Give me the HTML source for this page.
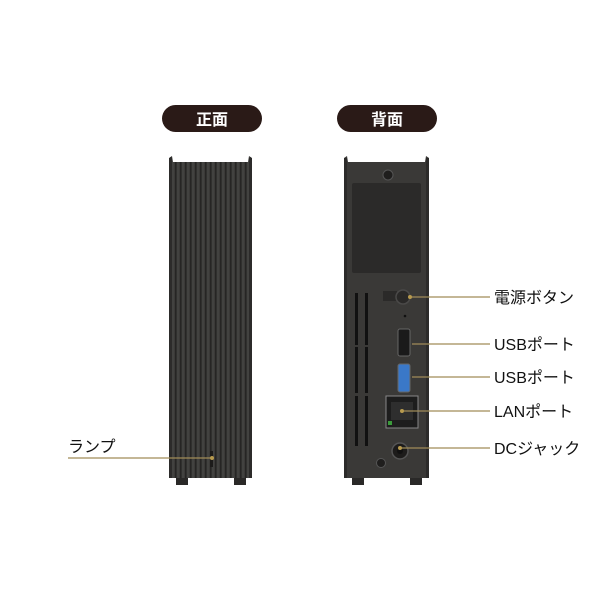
<!DOCTYPE html>
<html><head><meta charset="utf-8"><style>
html,body{margin:0;padding:0;background:#fff;width:600px;height:600px;overflow:hidden}
text{font-family:"Liberation Sans","Noto Sans CJK JP",sans-serif}
</style></head><body>
<svg width="600" height="600" viewBox="0 0 600 600" xmlns="http://www.w3.org/2000/svg">
<defs>
<pattern id="rib" width="5" height="10" patternUnits="userSpaceOnUse">
<rect width="5" height="10" fill="#3b3a38"/><rect width="1.5" height="10" fill="#262524"/><rect x="2.5" width="1" height="10" fill="#4a4947"/>
</pattern>
</defs>
<!-- pills -->
<rect x="162" y="105" width="100" height="27" rx="13.5" fill="#2a1a17"/>
<text x="212" y="125" font-size="16" font-weight="bold" fill="#fff" text-anchor="middle">正面</text>
<rect x="337" y="105" width="100" height="27" rx="13.5" fill="#2a1a17"/>
<text x="387" y="125" font-size="16" font-weight="bold" fill="#fff" text-anchor="middle">背面</text>

<!-- front device -->
<rect x="176" y="476" width="12" height="9" fill="#2a2928"/>
<rect x="234" y="476" width="12" height="9" fill="#2a2928"/>
<path d="M169 158 L172 156 L173 162 L248 162 L249 156 L252 158 L252 478 L169 478 Z" fill="url(#rib)"/>
<rect x="169" y="158" width="3" height="320" fill="#2c2b2a"/>
<rect x="249" y="158" width="3" height="320" fill="#2c2b2a"/>
<rect x="210" y="451" width="3" height="16" fill="#1c1b1a"/>

<!-- back device -->
<rect x="352" y="476" width="12" height="9" fill="#2a2928"/>
<rect x="410" y="476" width="12" height="9" fill="#2a2928"/>
<path d="M344 158 L347 156 L348 162 L425 162 L426 156 L429 158 L429 478 L344 478 Z" fill="#3a3937"/>
<rect x="344" y="158" width="3" height="320" fill="#2c2b2a"/>
<rect x="426" y="158" width="3" height="320" fill="#2c2b2a"/>
<circle cx="388" cy="175" r="5" fill="#1f1e1d" stroke="#555" stroke-width="1"/>
<rect x="352" y="183" width="69" height="90" rx="2" fill="#2b2a29"/>
<g fill="#111">
<rect x="355" y="293" width="3" height="52"/><rect x="365" y="293" width="3" height="52"/>
<rect x="355" y="347" width="3" height="46"/><rect x="365" y="347" width="3" height="46"/>
<rect x="355" y="396" width="3" height="50"/><rect x="365" y="396" width="3" height="50"/>
</g>
<rect x="383" y="291" width="14" height="10" fill="#2b2a29"/>
<circle cx="403" cy="297" r="7" fill="#2a2928" stroke="#4a4948" stroke-width="1.5"/>
<circle cx="405" cy="316" r="1.3" fill="#111"/>
<rect x="398" y="329" width="12" height="27" rx="2" fill="#1a1a1a" stroke="#666" stroke-width="1"/>
<rect x="398" y="364" width="12" height="28" rx="2" fill="#3a78c8" stroke="#666" stroke-width="1"/>
<rect x="386" y="396" width="32" height="32" fill="#1d1d1d" stroke="#888" stroke-width="1"/>
<rect x="391" y="402" width="22" height="18" fill="#2e2e2e"/>
<rect x="388" y="421" width="4" height="4" fill="#3b9b3b"/>
<circle cx="400" cy="451" r="8" fill="#1d1c1b" stroke="#555" stroke-width="1.5"/>
<circle cx="400" cy="451" r="3" fill="#111"/>
<circle cx="381" cy="463" r="4.5" fill="#1f1e1d" stroke="#555" stroke-width="1"/>

<!-- callout lines -->
<g stroke="#a08c58" stroke-width="1.2">
<line x1="68" y1="458" x2="212" y2="458"/>
<line x1="410" y1="297" x2="490" y2="297"/>
<line x1="412" y1="344" x2="490" y2="344"/>
<line x1="412" y1="377" x2="490" y2="377"/>
<line x1="402" y1="411" x2="490" y2="411"/>
<line x1="400" y1="448" x2="490" y2="448"/>
</g>
<g fill="#b79a4e">
<circle cx="212" cy="458" r="2"/><circle cx="410" cy="297" r="2"/><circle cx="402" cy="411" r="2"/><circle cx="400" cy="448" r="2"/>
</g>
<g font-size="16" fill="#111">
<text x="68" y="452">ランプ</text>
<text x="494" y="303">電源ボタン</text>
<text x="494" y="350">USBポート</text>
<text x="494" y="383">USBポート</text>
<text x="494" y="417">LANポート</text>
<text x="494" y="454">DCジャック</text>
</g>
</svg>
</body></html>
